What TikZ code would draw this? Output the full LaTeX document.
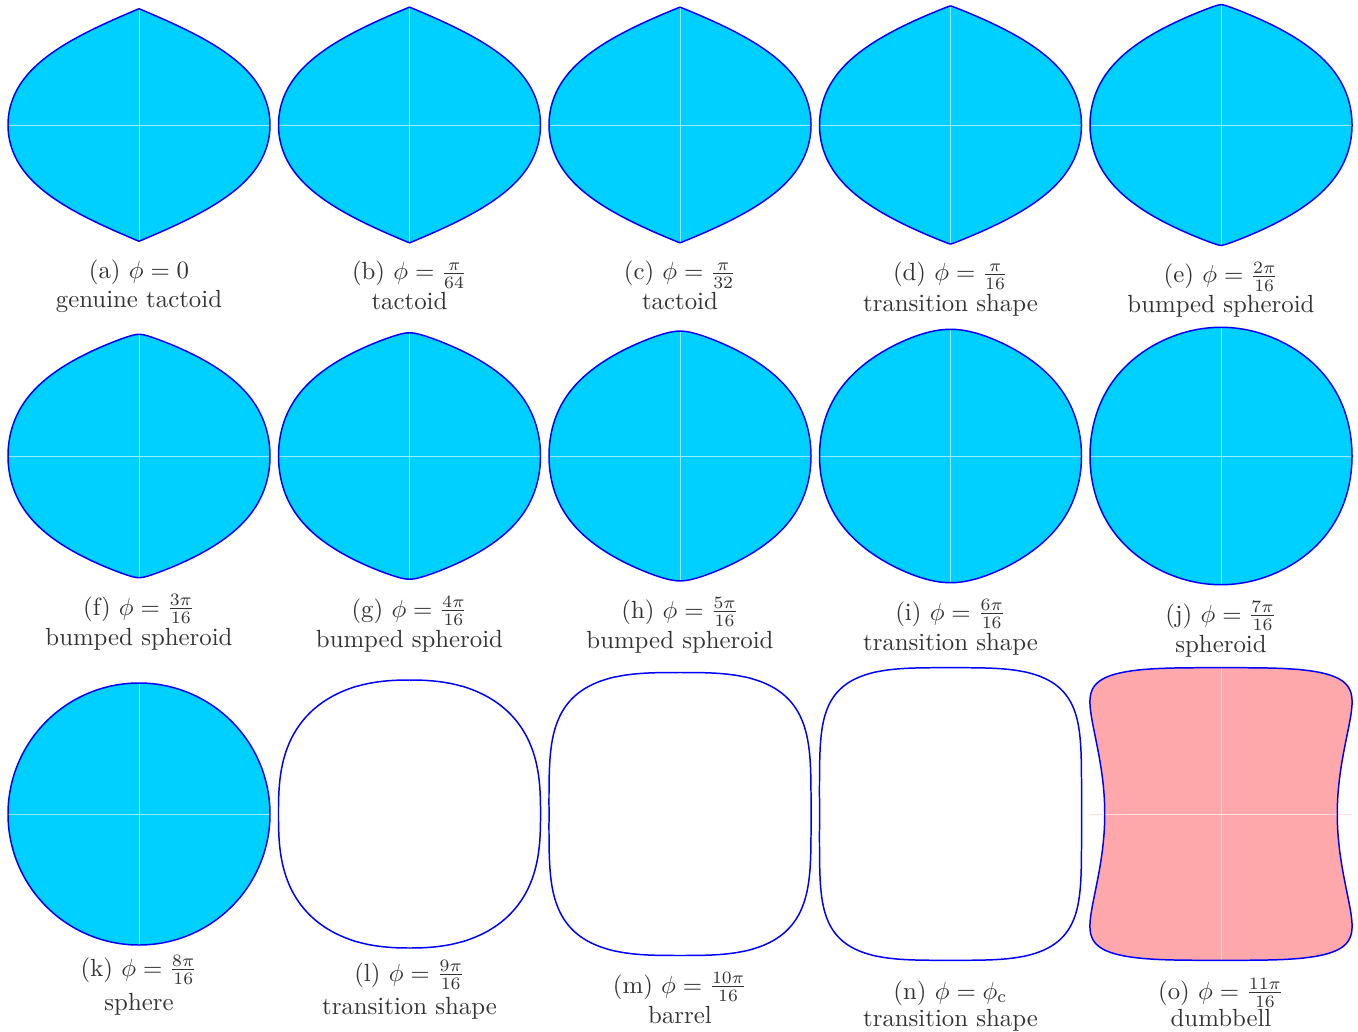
\documentclass[tikz,border=0pt]{standalone}
\definecolor{shapecyan}{RGB}{0,208,255}
\definecolor{shapepink}{RGB}{255,168,172}
\definecolor{captext}{RGB}{51,51,51}
\definecolor{pinkline}{RGB}{255,222,222}
\tikzset{
  declare function={
    tu(\vt,\vb,\vc)=max((1-\vt*\vt)*(1+\vb*\vt*\vt+\vc*\vt*\vt*\vt*\vt),0.00001);
    ff(\vt,\vb,\vc,\ve)=sqrt(tu(\vt,\vb,\vc)^2+\ve*tu(\vt,\vb,\vc))/sqrt(1+\ve);
    su(\vt,\vq)=max(1-pow(max(abs(\vt),0.05),\vq),0.00001);
    gg(\vt,\vq,\vp)=pow(su(\vt,\vq),1/\vp);
    dd(\vt)=1.038*gg(\vt,12,3.5)*(1-0.145*(1-\vt*\vt)^2);
  },
  outline/.style={draw=blue, line width=0.6pt, line join=round},
  axisline/.style={draw=white, opacity=0.6, line width=0.35pt},
  captxt/.style={text=captext, anchor=base, inner sep=0pt, font=\normalsize},
}
% tactoid family: #1 cx, #2 cy, #3 H, #4 b, #5 c, #6 eps
\newcommand\tactshape[6]{%
  \fill[shapecyan] plot[domain=0:360,samples=361,variable=\s]
    ({#1+131*sign(cos(\s))*ff(sin(\s),#4,#5,#6)},{#2-#3*sin(\s)}) -- cycle;
  \draw[axisline] (#1-131,#2) -- (#1+131,#2) (#1,#2-#3) -- (#1,#2+#3);
  \draw[outline] plot[domain=0:360,samples=361,variable=\s]
    ({#1+131*sign(cos(\s))*ff(sin(\s),#4,#5,#6)},{#2-#3*sin(\s)}) -- cycle;
}
% superellipse: #1 cx, #2 cy, #3 H, #4 q, #5 p
\newcommand\supershape[5]{%
  \draw[outline] plot[domain=0:360,samples=361,variable=\s]
    ({#1+131*sign(cos(\s))*gg(sin(\s),#4,#5)},{#2-#3*sin(\s)}) -- cycle;
}
\begin{document}
\begin{tikzpicture}[x=0.403pt,y=-0.403pt]
\fill[white] (0,0) rectangle (1358,1032);
\useasboundingbox (0,0) rectangle (1358,1032);
% row 1
\tactshape{139}{125}{116.3}{0.30}{-0.25}{0}
\tactshape{409.5}{125}{117.9}{0.31}{-0.23}{0}
\tactshape{680}{125}{117.9}{0.32}{-0.21}{0}
\tactshape{950.5}{125}{119}{0.34}{-0.17}{0.015}
\tactshape{1221}{125}{120.3}{0.38}{-0.10}{0.05}
% row 2
\tactshape{139}{456}{121.7}{0.42}{-0.05}{0.1}
\tactshape{409.5}{456}{123.2}{0.45}{0}{0.15}
\tactshape{680}{456}{124.9}{0.45}{0}{0.25}
\tactshape{950.5}{456}{126.7}{0.40}{0}{0.7}
\tactshape{1221}{456}{128.7}{0.30}{0}{3}
% row 3
\tactshape{139}{814}{131}{0}{0}{1000}
\supershape{409.5}{814}{134}{2.7}{2.3}
\supershape{680}{814}{141.5}{4}{3}
\supershape{950.5}{814}{146.3}{5}{3.5}
% dumbbell
\fill[shapepink] plot[domain=0:360,samples=361,variable=\s]
  ({1221+131*sign(cos(\s))*dd(sin(\s))},{814-146.3*sin(\s)}) -- cycle;
\draw[pinkline, line width=0.35pt] (1221-131,814) -- (1221+131,814);
\draw[axisline] (1221,814-146.3) -- (1221,814+146.3);
\draw[outline] plot[domain=0:360,samples=361,variable=\s]
  ({1221+131*sign(cos(\s))*dd(sin(\s))},{814-146.3*sin(\s)}) -- cycle;
% captions
\node[captxt] (ca1) at (139,279) {(a) $\phi=0$};
\node[captxt] (ca2) at (139,308) {genuine tactoid};
\node[captxt] (cb1) at (409.5,280) {(b) $\phi=\frac{\pi}{64}$};
\node[captxt] (cb2) at (409.5,310) {tactoid};
\node[captxt] (cc1) at (680,280) {(c) $\phi=\frac{\pi}{32}$};
\node[captxt] (cc2) at (680,310) {tactoid};
\node[captxt] (cd1) at (950.5,281) {(d) $\phi=\frac{\pi}{16}$};
\node[captxt] (cd2) at (950.5,312) {transition shape};
\node[captxt] (ce1) at (1221,283) {(e) $\phi=\frac{2\pi}{16}$};
\node[captxt] (ce2) at (1221,313) {bumped spheroid};
\node[captxt] (cf1) at (139,615) {(f) $\phi=\frac{3\pi}{16}$};
\node[captxt] (cf2) at (139,645) {bumped spheroid};
\node[captxt] (cg1) at (409.5,617) {(g) $\phi=\frac{4\pi}{16}$};
\node[captxt] (cg2) at (409.5,647) {bumped spheroid};
\node[captxt] (ch1) at (680,618) {(h) $\phi=\frac{5\pi}{16}$};
\node[captxt] (ch2) at (680,648) {bumped spheroid};
\node[captxt] (ci1) at (950.5,620) {(i) $\phi=\frac{6\pi}{16}$};
\node[captxt] (ci2) at (950.5,650) {transition shape};
\node[captxt] (cj1) at (1221,622) {(j) $\phi=\frac{7\pi}{16}$};
\node[captxt] (cj2) at (1221,652) {spheroid};
\node[captxt] (ck1) at (139,976) {(k) $\phi=\frac{8\pi}{16}$};
\node[captxt] (ck2) at (139,1010) {sphere};
\node[captxt] (cl1) at (409.5,981) {(l) $\phi=\frac{9\pi}{16}$};
\node[captxt] (cl2) at (409.5,1014) {transition shape};
\node[captxt] (cm1) at (680,993) {(m) $\phi=\frac{10\pi}{16}$};
\node[captxt] (cm2) at (680,1023) {barrel};
\node[captxt] (cn1) at (950.5,999) {(n) $\phi=\phi_{\mathrm{c}}$};
\node[captxt] (cn2) at (950.5,1026) {transition shape};
\node[captxt] (co1) at (1221,999) {(o) $\phi=\frac{11\pi}{16}$};
\node[captxt] (co2) at (1221,1026) {dumbbell};
\end{tikzpicture}
\end{document}
